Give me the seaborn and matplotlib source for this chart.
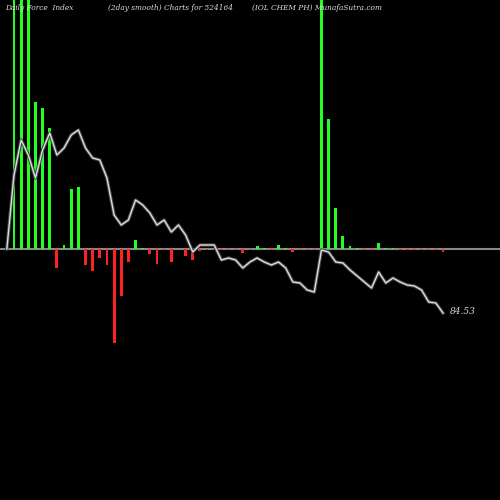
import matplotlib
matplotlib.use("Agg")
import matplotlib.pyplot as plt
import seaborn as sns
import numpy as np
import pandas as pd

force = [300, 300, 300, 147, 141, 121, -19, 4, 60, 62,
         -16, -22, -9, -16, -94, -47, -13, 9, 1, -5,
         -15, -1, -13, 0.5, -7, -11, -2, -1, -1, -1,
         -1, -1, -4, -1, 3, 1, -1, 4, 1, -3,
         -1, -1, -1, 300, 130, 41, 13, 3, 1, -1,
         -1, 6, 1, 1, -1, -1, -1, -1, -1, -1, -3]
price = [0, 74, 109, 94, 71, 99, 116, 94, 101, 114, 119,
         101, 91, 89, 71, 34, 24, 29, 49, 44, 36,
         24, 29, 17, 24, 14, -3, 4, 4, 4, -11,
         -9, -11, -19, -13, -9, -13, -16, -13, -19, -33,
         -34, -41, -43, -1, -3, -13, -14, -21, -27, -33,
         -39, -23, -34, -29, -33, -36, -37, -41, -53, -54, -64]

idx = np.arange(len(force))
df = pd.DataFrame({"i": idx, "v": force})
lp = pd.DataFrame({"i": np.arange(-1, len(force)), "p": price})

fig = plt.figure(figsize=(5, 5), dpi=100, facecolor="black")
ax = fig.add_axes([0, 0, 1, 1])
ax.set_facecolor("black")
ax.axhline(0, color="#888888", lw=1.5, zorder=1)
pos = df[df.v > 0]
neg = df[df.v <= 0]
sns.barplot(data=pos, x="i", y="v", native_scale=True, color="#22ff22", saturation=1, width=0.4, ax=ax, zorder=2)
sns.barplot(data=neg, x="i", y="v", native_scale=True, color="#ff2222", saturation=1, width=0.4, ax=ax, zorder=2)
sns.lineplot(data=lp, x="i", y="p", color="#444444", lw=2.5, ax=ax, zorder=3)
sns.lineplot(data=lp, x="i", y="p", color="#dddddd", lw=1.0, ax=ax, zorder=4)
ax.set_xlim(-14 / 7.15, (500 - 14) / 7.15)
ax.set_ylim(-251, 249)
ax.axis("off")
kw = dict(color="#dddddd", fontsize=5.3, family="DejaVu Serif", style="italic", va="top")
fig.text(0.01, 0.992, "Daily Force  Index", **kw)
fig.text(0.216, 0.992, "(2day smooth) Charts for 524164", **kw)
fig.text(0.503, 0.992, "(IOL CHEM PH) MunafaSutra.com", **kw)
ax.text(60.9, -63, "84.53", color="#dddddd", fontsize=6.5, family="DejaVu Serif", style="italic", va="center")
fig.savefig("out.png", facecolor="black")
